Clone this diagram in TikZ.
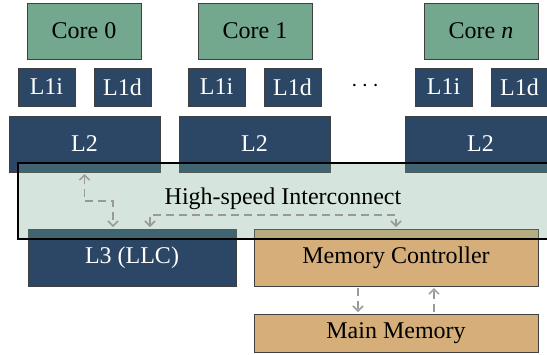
\documentclass[tikz,border=0pt,12pt]{standalone}
\usepackage{fontspec}
\setmainfont{Liberation Serif}
\usetikzlibrary{positioning, arrows.meta}
\definecolor{coregreen}{RGB}{115,168,143}
\definecolor{cacheblue}{RGB}{43,71,101}
\definecolor{memtan}{RGB}{213,174,122}

\begin{document}
\begin{tikzpicture}[x=0.5pt,y=-0.5pt,
	box/.style={draw=black!75, line width=0.5pt, inner sep=0pt, outer sep=0pt},
	core/.style={box, fill=coregreen, minimum width=57pt, minimum height=28pt},
	lone/.style={box, fill=cacheblue, text=white, minimum width=28.5pt, minimum height=19pt},
	ltwo/.style={box, fill=cacheblue, text=white, minimum width=75.5pt, minimum height=28pt},
	mem/.style={box, fill=memtan, minimum width=142pt},
	link/.style={draw=black!40, line width=0.75pt, dash pattern=on 4pt off 2.5pt,
		>={Straight Barb[length=2.5pt,width=5pt]}, shorten >=1pt, shorten <=1pt}]
	\useasboundingbox (0,0) rectangle (547,354);
	% cores
	\node[core] (c0) at (84,31) {Core 0};
	\node[core] (c1) at (255,31) {Core 1};
	\node[core] (cn) at (481,31) {Core \textit{n}};
	% private caches
	\node[lone] (i0) at (46.5,87) {L1i};
	\node[lone] (d0) at (122.5,87) {L1d};
	\node[lone] (i1) at (216.5,87) {L1i};
	\node[lone] (d1) at (292.5,87) {L1d};
	\node[lone] (in) at (443.5,87) {L1i};
	\node[lone] (dn) at (519.5,87) {L1d};
	\node (dots) at (365,86) {$\cdots$};
	\node[ltwo] (l2a) at (84.5,144) {L2};
	\node[ltwo] (l2b) at (254.5,144) {L2};
	\node[ltwo] (l2n) at (480.5,144) {L2};
	% shared part
	\node[box, fill=cacheblue, text=white, minimum width=104pt, minimum height=28.5pt] (l3) at (132,257.5) {L3 (LLC)};
	\node[mem, minimum height=28.5pt] (mc) at (396,257.5) {Memory Controller};
	\node[mem, minimum height=19pt] (mm) at (396,333) {Main Memory};
	\node[draw=black, line width=0.8pt, fill=coregreen, fill opacity=0.3, inner sep=0pt,
		minimum width=271pt, minimum height=38pt] (ic) at (289,201) {};
	\node (ictext) at (283,199) {High-speed Interconnect};
	% data paths
	\draw[link,<->] (l2a.south) -- ++(0,29) -| ([xshift=-9.5pt]l3.north);
	\draw[link,<->] ([xshift=9pt]l3.north) -- ++(0,-14) -| (mc.north);
	\draw[link,->] ([xshift=-19pt]mc.south) -- ([xshift=-19pt]mm.north);
	\draw[link,->] ([xshift=19pt]mm.north) -- ([xshift=19pt]mc.south);
\end{tikzpicture}
\end{document}
